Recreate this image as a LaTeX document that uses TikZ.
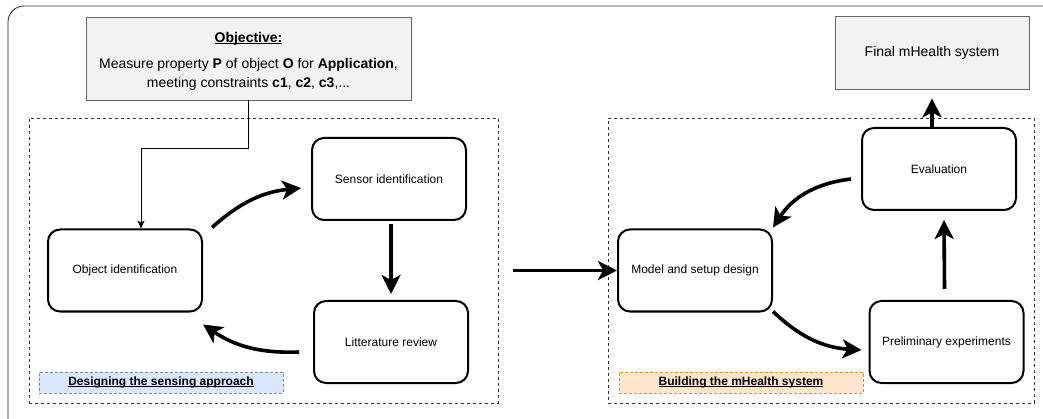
\documentclass[tikz,border=0pt]{standalone}
\usepackage{fontspec}
\setmainfont{Liberation Sans}
\usetikzlibrary{arrows.meta,calc}
\definecolor{framegray}{HTML}{333333}
\definecolor{boxgray}{HTML}{F2F2F2}
\definecolor{boxedge}{HTML}{666666}
\definecolor{blueFill}{HTML}{DAE8FC}
\definecolor{blueEdge}{HTML}{6C8EBF}
\definecolor{orangeFill}{HTML}{FFE6CC}
\definecolor{orangeEdge}{HTML}{D79B00}
% underline set just below the baseline
\newcommand\ulbf[1]{\setbox0\hbox{#1}\rlap{\rule[-1.8pt]{\wd0}{0.9pt}}\box0}
\tikzset{
  stage/.style={draw, line width=2pt, rounded corners=12pt, minimum width=154pt,
    minimum height=82pt, align=center, font=\fontsize{12}{14}\selectfont, inner sep=0pt},
  greybox/.style={draw=boxedge, fill=boxgray, line width=0.8pt, align=center, inner sep=0pt},
  group/.style={draw=framegray, line width=0.9pt, dash pattern=on 3pt off 3pt, inner sep=0pt},
  tag/.style={line width=0.8pt, dash pattern=on 3pt off 2pt, inner sep=0pt,
    minimum height=21pt, font=\bfseries\fontsize{12}{14}\selectfont},
  flow/.style={line width=3.6pt, -{Stealth[length=19pt,width=19pt,inset=5pt]}},
  thinflow/.style={line width=0.9pt, -{Stealth[length=8pt,width=7pt,inset=2pt]}},
}
\begin{document}
\begin{tikzpicture}[x=1pt,y=-1pt]
\useasboundingbox (0,0) rectangle (1043,419);
\clip (0,0) rectangle (1043,419);

% outer frame (runs past the right and bottom edges)
\draw[framegray, line width=0.9pt, rounded corners=16pt] (8,6) rectangle (1080,450);

% phase groups
\node[group, minimum width=469pt, minimum height=285pt] (leftgrp) at (263.5,260.5) {};
\node[group, minimum width=426pt, minimum height=285pt] (rightgrp) at (821,260.5) {};

% objective and final system
\node[greybox, minimum width=325pt, minimum height=83pt,
      font=\fontsize{14}{19}\selectfont] (objective) at (248.5,58.5)
  {\rule{0pt}{16pt}\ulbf{\textbf{Objective:}}\\[7pt]
   Measure property \textbf{P} of object \textbf{O} for \textbf{Application},\\
   meeting constraints \textbf{c1}, \textbf{c2}, \textbf{c3},...};
\node[greybox, minimum width=194pt, minimum height=73pt,
      font=\fontsize{14}{17}\selectfont] (final) at (932,52.5) {Final mHealth system};

% sensing approach stages
\node[stage] (obj) at (125,270.5) {Object identification};
\node[stage] (sensor) at (389,179) {Sensor identification};
\node[stage] (lit) at (391,342) {Litterature review};

% mHealth system stages
\node[stage] (model) at (695,270.5) {Model and setup design};
\node[stage] (eval) at (939,169) {Evaluation};
\node[stage] (prelim) at (946.5,342) {Preliminary experiments};

% group labels
\node[tag, draw=blueEdge, fill=blueFill, minimum width=244pt] (tagA) at (161,382.5)
  {\ulbf{Designing the sensing approach}};
\node[tag, draw=orangeEdge, fill=orangeFill, minimum width=244pt] (tagB) at (741,382.5)
  {\ulbf{Building the mHealth system}};

% objective feeds the first stage
\draw[thinflow] (objective.south) -- ++(0,48) -| ($(obj.north)+(16,0)$);

% sensing cycle
\draw[flow] ($(obj.north east)+(9,-1)$) to[bend left=18] ($(sensor.west)+(-10,9)$);
\draw[flow] ($(sensor.south)+(2,3)$) -- ($(lit.north)+(0,-6)$);
\draw[flow] ($(lit.west)+(-14,10)$) to[bend left=18] ($(obj.south east)+(0,12)$);

% hand-over between the phases
\draw[flow] ($(leftgrp.east |- model.west)+(15,0)$) -- (model.west);

% mHealth cycle
\draw[flow] ($(model.south east)+(0,-1)$) to[bend right=20] ($(prelim.west)+(-7,8)$);
\draw[flow] ($(prelim.north)+(-2,-11)$) -- ($(eval.south)+(5,9)$);
\draw[flow] ($(eval.west)+(-10,10)$) to[bend right=25] ($(model.north east)+(0,-1)$);
\draw[flow] (eval.north -| final.south) -- ($(final.south)+(0,9)$);
\end{tikzpicture}
\end{document}
